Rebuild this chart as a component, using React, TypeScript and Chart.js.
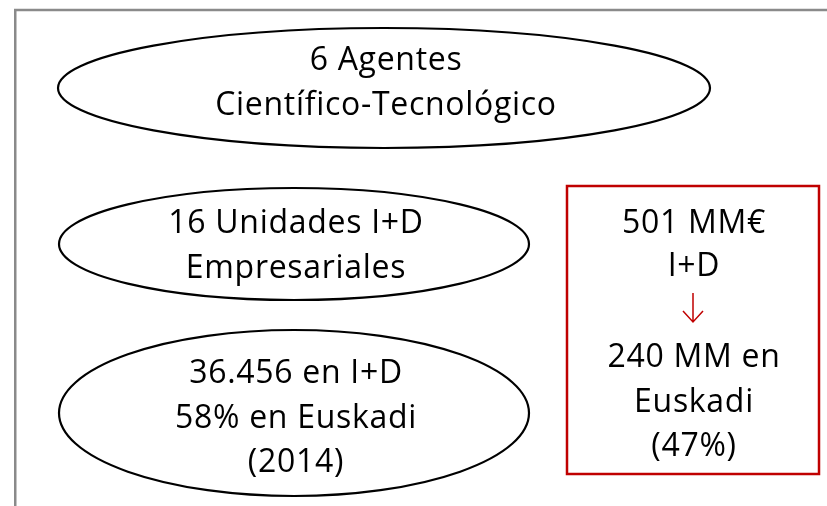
import React, { useEffect, useRef } from "react";
import { Chart, registerables } from "chart.js";

Chart.register(...registerables);

// Text content of the diagram
const ovalLabels: string[][] = [
  ["6 Agentes", "Científico-Tecnológico"],
  ["16 Unidades I+D", "Empresariales"],
  ["36.456 en I+D", "58% en Euskadi", "(2014)"],
];
const boxTopLabels: string[] = ["501 MM€", "I+D"];
const boxBottomLabels: string[] = ["240 MM en", "Euskadi", "(47%)"];

// Layout (in page pixel units mapped through hidden linear scales)
const W = 827;
const H = 506;
const ovals = [
  { cx: 384, cy: 88, rx: 326, ry: 60, baseline: 70 },
  { cx: 294, cy: 244, rx: 235, ry: 56, baseline: 233 },
  { cx: 294, cy: 413, rx: 235, ry: 83, baseline: 383 },
];
const box = { x0: 567, y0: 186, x1: 819, y1: 474 };
const boxTopBaseline = 233;
const arrow = { y0: 293, y1: 322 };
const boxBottomBaseline = 367;
const LINE = 44.5;
const FONT = '32px "Open Sans"';
const SPACING = "0.7px";

const diagramPlugin = {
  id: "diagram",
  afterDraw(chart: any) {
    const ctx: any = chart.ctx;
    const xs = chart.scales.x;
    const ys = chart.scales.y;
    const px = (v: number) => xs.getPixelForValue(v);
    const py = (v: number) => ys.getPixelForValue(v);
    const sx = (d: number) => Math.abs(px(d) - px(0));
    const sy = (d: number) => Math.abs(py(d) - py(0));

    ctx.save();
    // frame
    ctx.strokeStyle = "#8a8a8a";
    ctx.lineWidth = 2.5;
    ctx.beginPath();
    ctx.moveTo(px(15.25), py(H));
    ctx.lineTo(px(15.25), py(10));
    ctx.lineTo(px(W), py(10));
    ctx.stroke();

    // ovals
    ctx.strokeStyle = "#000";
    ctx.lineWidth = 2.2;
    ctx.fillStyle = "#000";
    ctx.font = FONT;
    ctx.letterSpacing = SPACING;
    ctx.textAlign = "center";
    ctx.textBaseline = "alphabetic";
    ovals.forEach((o, i) => {
      ctx.beginPath();
      ctx.ellipse(px(o.cx), py(o.cy), sx(o.rx), sy(o.ry), 0, 0, Math.PI * 2);
      ctx.stroke();
      ovalLabels[i].forEach((t, j) => {
        ctx.fillText(t, px(o.cx + 2), py(o.baseline + j * LINE));
      });
    });

    // red box
    ctx.strokeStyle = "#c00000";
    ctx.lineWidth = 2.5;
    ctx.strokeRect(px(box.x0), py(box.y0), sx(box.x1 - box.x0), sy(box.y1 - box.y0));
    const bcx = (box.x0 + box.x1) / 2;
    ctx.fillStyle = "#000";
    boxTopLabels.forEach((t, j) => ctx.fillText(t, px(bcx + 1), py(boxTopBaseline + j * 43)));
    boxBottomLabels.forEach((t, j) => ctx.fillText(t, px(bcx + 1), py(boxBottomBaseline + j * LINE)));

    // arrow
    ctx.strokeStyle = "#c00000";
    ctx.lineWidth = 1.5;
    ctx.beginPath();
    ctx.moveTo(px(bcx), py(arrow.y0));
    ctx.lineTo(px(bcx), py(arrow.y1));
    ctx.moveTo(px(bcx - 10), py(arrow.y1 - 11));
    ctx.lineTo(px(bcx), py(arrow.y1));
    ctx.lineTo(px(bcx + 10), py(arrow.y1 - 11));
    ctx.stroke();
    ctx.restore();
  },
};

export default function App() {
  const ref = useRef<HTMLCanvasElement>(null);
  useEffect(() => {
    if (!ref.current) return;
    const chart = new Chart(ref.current, {
      type: "scatter",
      data: { datasets: [{ data: [] }] },
      options: {
        animation: false,
        responsive: true,
        maintainAspectRatio: false,
        layout: { padding: 0 },
        plugins: { legend: { display: false }, tooltip: { enabled: false } },
        scales: {
          x: { type: "linear", min: 0, max: W, display: false },
          y: { type: "linear", min: 0, max: H, reverse: true, display: false },
        },
      },
      plugins: [diagramPlugin],
    });
    return () => chart.destroy();
  }, []);
  return (
    <div style={{ position: "fixed", left: 0, top: 0, width: W, height: H, background: "#fff" }}>
      <canvas ref={ref} />
    </div>
  );
}
